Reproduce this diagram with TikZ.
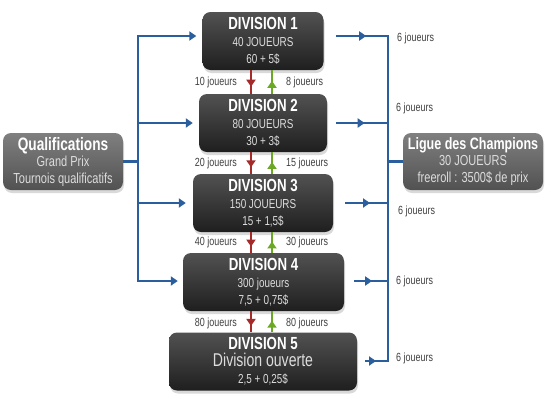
\documentclass[tikz,border=0pt]{standalone}
\usepackage{fontspec}
\setmainfont{Liberation Sans}[FakeStretch=0.76]
\usetikzlibrary{arrows.meta,decorations.markings,shadows,calc}
\definecolor{busblue}{HTML}{2B5E9C}
\definecolor{downred}{HTML}{A52A2A}
\definecolor{upgreen}{HTML}{6BA823}
\definecolor{subgray}{HTML}{DDDDDD}
\definecolor{lblgray}{HTML}{404040}
\newcommand\dvT{\fontsize{17.5}{18}\selectfont\bfseries}
\newcommand\dvS{\color{subgray}}
\begin{document}
\begin{tikzpicture}[x=1pt,y=-1pt,
  divbox/.style={rounded corners=8pt, top color=black!68, bottom color=black!88,
    minimum height=58pt, inner sep=0pt, align=center, text=white,
    drop shadow={shadow xshift=1pt,shadow yshift=-3pt,opacity=0.3},
    font=\fontsize{13}{17}\selectfont},
  sidebox/.style={divbox, top color=black!50, bottom color=black!68,
    minimum height=57pt, font=\fontsize{14.5}{16.5}\selectfont},
  lbl/.style={font=\fontsize{11.8}{13}\selectfont, text=lblgray, inner sep=0pt},
  bus/.style={busblue, line width=2.5pt},
  tip/.style={-{Triangle[length=7pt,width=9pt]}},
  marr/.style={postaction={decorate},decoration={markings,
    mark=at position #1 with {\arrow{Triangle[length=7pt,width=9pt]}}}},
  redl/.style={downred, line width=2pt},
  grnl/.style={upgreen, line width=2pt}]
\useasboundingbox (0,0) rectangle (550,410);

% boxes
\node[divbox, minimum width=121pt] (d1) at (263,41)
  {{\dvT DIVISION 1}\\{\dvS 40 JOUEURS}\\{\dvS 60 + 5\$}};
\node[divbox, minimum width=128pt] (d2) at (263,123)
  {{\dvT DIVISION 2}\\{\dvS 80 JOUEURS}\\{\dvS 30 + 3\$}};
\node[divbox, minimum width=140pt] (d3) at (263,203)
  {{\dvT DIVISION 3}\\{\dvS 150 JOUEURS}\\{\dvS 15 + 1,5\$}};
\node[divbox, minimum width=161pt] (d4) at (263.5,282)
  {{\dvT DIVISION 4}\\{\dvS 300 joueurs}\\{\dvS 7,5 + 0,75\$}};
\node[divbox, minimum width=188pt] (d5) at (263,361.5)
  {{\dvT DIVISION 5}\\{\dvS\fontsize{18.5}{17}\selectfont Division ouverte}\\{\dvS 2,5 + 0,25\$}};
\node[sidebox, minimum width=120pt] (qual) at (63,161.5)
  {{\fontsize{18}{18}\selectfont\bfseries Qualifications}\\{\dvS Grand Prix}\\{\dvS Tournois qualificatifs}};
\node[sidebox, minimum width=140pt] (ligue) at (473,161.5)
  {{\fontsize{16.5}{18}\selectfont\bfseries Ligue des Champions}\\{\dvS 30 JOUEURS}\\{\dvS freeroll : 3500\$ de prix}};

% left bus
\coordinate (L1) at (138,36);
\coordinate (L2) at (138,123);
\coordinate (L3) at (138,203);
\coordinate (L4) at (138,281);
\draw[bus] (qual.east) -- (qual.east -| L1);
\draw[bus, {Triangle[length=7pt,width=9pt]}-{Triangle[length=7pt,width=9pt]},
  shorten <=6pt, shorten >=5pt] (d1.west |- L1) -- (L1) -- (L4) -- (d4.west |- L4);
\draw[bus, tip, shorten >=6pt] (L2) -- (d2.west |- L2);
\draw[bus, tip, shorten >=7pt] (L3) -- (d3.west |- L3);

% right bus
\coordinate (R1) at (388,36);
\coordinate (R2) at (388,123);
\coordinate (R3) at (388,203);
\coordinate (R4) at (388,281);
\coordinate (R5) at (388,361);
\draw[bus] (R1) -- (R5);
\draw[bus] (ligue.west -| R1) -- (ligue.west);
\draw[bus, marr=0.57] ($(d1.east |- R1)+(12,0)$) -- ([xshift=1.25pt]R1);
\draw[bus, marr=0.55] ($(d2.east |- R2)+(9,0)$) -- (R2);
\draw[bus, marr=0.58] ($(d3.east |- R3)+(12,0)$) -- (R3);
\draw[bus, marr=0.53] ($(d4.east |- R4)+(10,0)$) -- (R4);
\draw[bus, marr=0.45] ($(d5.east |- R5)+(8,0)$) -- ([xshift=1.25pt]R5);

% promotion / relegation arrows
\coordinate (rx) at (251,0);
\coordinate (gx) at (272,0);
\foreach \a/\b in {d1/d2,d2/d3,d3/d4,d4/d5}{
  \draw[redl, marr=0.7] (\a.south -| rx) -- (\b.north -| rx);
  \draw[grnl, marr=0.55] (\b.north -| gx) -- (\a.south -| gx);
}

% labels
\node[lbl, anchor=east] (m1) at (237,82) {10 joueurs};
\node[lbl, anchor=west] (p1) at (286,82) {8 joueurs};
\node[lbl, anchor=east] (m2) at (237,163) {20 joueurs};
\node[lbl, anchor=west] (p2) at (286,163) {15 joueurs};
\node[lbl, anchor=east] (m3) at (237,242) {40 joueurs};
\node[lbl, anchor=west] (p3) at (286,242) {30 joueurs};
\node[lbl, anchor=east] (m4) at (237,323) {80 joueurs};
\node[lbl, anchor=west] (p4) at (286,323) {80 joueurs};

\node[lbl, anchor=west] (s1) at (397,38) {6 joueurs};
\node[lbl, anchor=west] (s2) at (396,108) {6 joueurs};
\node[lbl, anchor=west] (s3) at (398,211) {6 joueurs};
\node[lbl, anchor=west] (s4) at (396,281) {6 joueurs};
\node[lbl, anchor=west] (s5) at (396,358) {6 joueurs};
\end{tikzpicture}
\end{document}
